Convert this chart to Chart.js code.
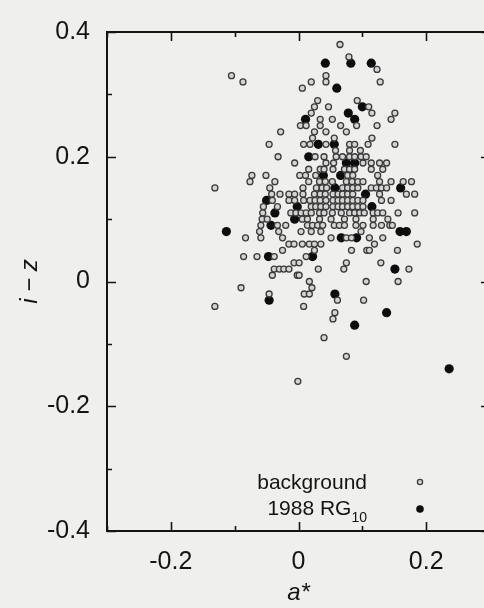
<!DOCTYPE html>
<html><head><meta charset="utf-8">
<script src="https://cdn.jsdelivr.net/npm/chart.js@4.4.1/dist/chart.umd.min.js"></script>
<style>
html,body{margin:0;padding:0;background:#efefed;overflow:hidden;width:484px;height:608px;}
#wrap{position:absolute;left:0;top:0;width:500px;height:608px;}
canvas{display:block;}
</style></head><body>
<div id="wrap"><canvas id="c" width="500" height="608"></canvas></div>
<script>
// ---- tick labels ----
const xTickValues = [-0.2, 0, 0.2];
const xTickLabels = ['-0.2', '0', '0.2'];
const yTickValues = [-0.4, -0.2, 0, 0.2, 0.4];
const yTickLabels = ['-0.4', '-0.2', '0', '0.2', '0.4'];
const xMinorValues = [-0.3, -0.2, -0.1, 0, 0.1, 0.2, 0.3];
const yMinorValues = [-0.4, -0.3, -0.2, -0.1, 0, 0.1, 0.2, 0.3, 0.4];
const xTitle = 'a*';
const yTitle = 'i \u2212 z';
const seriesNames = ['background', '1988 RG'];
const seriesSub = ['', '10'];

// ---- background objects: rows of equal i-z ----
const bgRowY = [0.38,0.36,0.34,0.33,0.32,0.31,0.29,0.28,0.27,0.26,0.25,0.24,0.23,0.22,0.21,0.20,0.19,0.18,0.17,0.16,0.15,0.14,0.13,0.12,0.11,0.10,0.09,0.08,0.07,0.06,0.05,0.04,0.03,0.02,0.01,0.00,-0.01,-0.02,-0.03,-0.04,-0.05,-0.06,-0.09,-0.12,-0.16];
const bgRowX = [
 [0.065],
 [0.079],
 [0.123],
 [-0.105,0.043],
 [-0.087,0.020,0.043,0.128],
 [0.006],
 [0.030,0.092],
 [0.025,0.047,0.110],
 [0.020,0.115,0.151],
 [0.034,0.053,0.145],
 [0.003,0.012,0.034,0.066,0.091,0.123],
 [-0.028,0.025,0.043,0.075],
 [0.022,0.056,0.115],
 [-0.046,0.008,0.018,0.043,0.080,0.088,0.109,0.151],
 [0.058,0.080,0.097],
 [-0.032,0.026,0.040,0.059,0.069,0.080,0.088,0.098,0.106],
 [-0.006,0.043,0.055,0.101,0.114,0.127,0.138],
 [0.016,0.034,0.040,0.054,0.072,0.080,0.088,0.114,0.132],
 [-0.073,-0.051,0.002,0.011,0.027,0.077,0.085,0.124],
 [-0.076,-0.037,0.016,0.033,0.042,0.053,0.075,0.084,0.093,0.101,0.127,0.145,0.164,0.177],
 [-0.131,-0.045,0.007,0.028,0.037,0.044,0.069,0.077,0.085,0.093,0.114,0.122,0.130,0.138],
 [-0.042,-0.029,-0.015,-0.006,0.007,0.025,0.034,0.042,0.054,0.062,0.069,0.077,0.085,0.127,0.169,0.182],
 [-0.041,-0.015,-0.006,0.008,0.018,0.026,0.034,0.043,0.054,0.062,0.069,0.077,0.085,0.093,0.101,0.130,0.145],
 [-0.055,-0.033,0.020,0.027,0.035,0.043,0.054,0.062,0.069,0.077,0.085,0.093,0.101],
 [-0.056,-0.012,-0.004,0.004,0.012,0.020,0.033,0.040,0.053,0.067,0.080,0.088,0.096,0.103,0.117,0.124,0.132,0.156,0.182],
 [-0.057,-0.049,0.006,0.014,0.033,0.051,0.072,0.090,0.117,0.140],
 [-0.059,-0.033,-0.020,0.014,0.022,0.030,0.038,0.056,0.064,0.072,0.090,0.101,0.117,0.130,0.143,0.147],
 [-0.061,-0.031,0.004,0.020,0.035,0.098],
 [-0.083,-0.059,-0.025,0.051,0.075,0.083,0.111,0.132],
 [-0.015,-0.007,0.006,0.017,0.025,0.035,0.119,0.186],
 [-0.025,0.025,0.083,0.107,0.111,0.155],
 [-0.086,-0.065,-0.038,0.012],
 [-0.007,0.001,0.075,0.129],
 [-0.038,-0.030,-0.023,-0.015,0.031,0.071,0.173],
 [-0.041,-0.002,0.001],
 [0.017,0.106,0.156],
 [-0.090,0.021],
 [-0.046,0.009,0.017],
 [0.061,0.102],
 [-0.131,0.008],
 [0.057],
 [0.054],
 [0.040],
 [0.075],
 [-0.001]
];

// ---- 1988 RG10 ----
const rgX = [0.042,0.082,0.114,0.060,0.100,0.078,0.088,0.011,0.031,0.056,0.016,0.075,0.088,0.039,0.066,0.057,0.160,0.105,-0.050,-0.002,0.115,-0.037,-0.006,-0.043,-0.113,0.159,0.169,0.067,0.091,-0.047,0.022,0.151,0.057,-0.046,0.138,0.088,0.236];
const rgY = [0.35,0.35,0.35,0.31,0.28,0.27,0.26,0.26,0.22,0.22,0.20,0.19,0.19,0.17,0.17,0.15,0.15,0.14,0.13,0.12,0.12,0.11,0.10,0.09,0.08,0.08,0.08,0.07,0.07,0.04,0.04,0.02,-0.02,-0.03,-0.05,-0.07,-0.14];

const bgData = [];
bgRowY.forEach((yv, i) => bgRowX[i].forEach(xv => bgData.push({x: xv, y: yv})));
const rgData = rgX.map((xv, i) => ({x: xv, y: rgY[i]}));

const FONT = "'Liberation Sans', Arial, Helvetica, sans-serif";
const INK = '#141414';

const framePlugin = {
  id: 'frame',
  afterDraw(chart) {
    const {ctx, chartArea: a, scales: {x, y}} = chart;
    ctx.save();
    ctx.strokeStyle = INK;
    ctx.lineWidth = 2;
    ctx.strokeRect(a.left, a.top, a.right - a.left, a.bottom - a.top);
    ctx.lineWidth = 1.6;
    ctx.beginPath();
    xMinorValues.forEach(v => {
      const px = Math.round(x.getPixelForValue(v)) + 0.5;
      const L = xTickValues.includes(v) ? 9 : 5;
      ctx.moveTo(px, a.bottom); ctx.lineTo(px, a.bottom - L);
      ctx.moveTo(px, a.top); ctx.lineTo(px, a.top + L);
    });
    yMinorValues.forEach(v => {
      const py = Math.round(y.getPixelForValue(v)) + 0.5;
      const L = yTickValues.includes(v) ? 9 : 5;
      ctx.moveTo(a.left, py); ctx.lineTo(a.left + L, py);
      ctx.moveTo(a.right, py); ctx.lineTo(a.right - L, py);
    });
    ctx.stroke();

    // legend (bottom right inside plot)
    const ds = chart.data.datasets;
    const textRight = 367, markX = 420;
    const rowsY = [489, 515];
    const markY = [482, 509];
    ctx.fillStyle = INK;
    ctx.textBaseline = 'alphabetic';
    ds.forEach((d, i) => {
      const sub = seriesSub[i];
      ctx.font = '14px ' + FONT;
      const subW = sub ? ctx.measureText(sub).width : 0;
      ctx.font = '21px ' + FONT;
      ctx.textAlign = 'right';
      ctx.fillText(seriesNames[i], textRight - subW, rowsY[i]);
      if (sub) {
        ctx.font = '14px ' + FONT;
        ctx.textAlign = 'left';
        ctx.fillText(sub, textRight - subW, rowsY[i] + 7);
      }
      ctx.beginPath();
      ctx.arc(markX, markY[i], i === 0 ? 2.6 : 3.8, 0, Math.PI * 2);
      ctx.fillStyle = d.backgroundColor;
      ctx.fill();
      if (d.borderWidth) { ctx.lineWidth = d.borderWidth; ctx.strokeStyle = d.borderColor; ctx.stroke(); }
      ctx.fillStyle = INK;
    });
    ctx.restore();
  }
};

new Chart(document.getElementById('c'), {
  type: 'scatter',
  data: {
    datasets: [
      {label: seriesNames[0], data: bgData, pointRadius: 3, pointHoverRadius: 3,
       backgroundColor: '#d4d4d2', borderColor: '#3a3a3a', borderWidth: 1.3},
      {label: seriesNames[1] + seriesSub[1], data: rgData, pointRadius: 4.6, pointHoverRadius: 4.6,
       backgroundColor: '#0d0d0d', borderColor: '#0d0d0d', borderWidth: 0}
    ]
  },
  options: {
    responsive: false,
    animation: false,
    events: [],
    layout: {padding: {top: 23, right: 10, left: 0, bottom: 0}},
    plugins: {legend: {display: false}, tooltip: {enabled: false}},
    scales: {
      x: {
        type: 'linear', min: -0.3, max: 0.3,
        afterBuildTicks: s => { s.ticks = xTickValues.map(v => ({value: v})); },
        afterFit: s => { s.height = 77; },
        grid: {display: false, drawTicks: false},
        border: {display: false},
        ticks: {padding: 16, color: INK, font: {family: FONT, size: 25},
                callback: (v) => xTickLabels[xTickValues.findIndex(t => Math.abs(t - v) < 1e-9)]},
        title: {display: true, text: xTitle, color: INK, padding: {top: -3, bottom: 0},
                font: {family: FONT, size: 24, style: 'italic'}}
      },
      y: {
        type: 'linear', min: -0.4, max: 0.4,
        afterBuildTicks: s => { s.ticks = yTickValues.map(v => ({value: v})); },
        afterFit: s => { s.width = 107; },
        grid: {display: false, drawTicks: false},
        border: {display: false},
        ticks: {padding: 17, color: INK, font: {family: FONT, size: 25},
                callback: (v) => yTickLabels[yTickValues.findIndex(t => Math.abs(t - v) < 1e-9)]},
        title: {display: true, text: yTitle, color: INK, padding: {top: 16, bottom: 0},
                font: {family: FONT, size: 24, style: 'italic'}}
      }
    }
  },
  plugins: [framePlugin]
});
</script>
</body></html>
